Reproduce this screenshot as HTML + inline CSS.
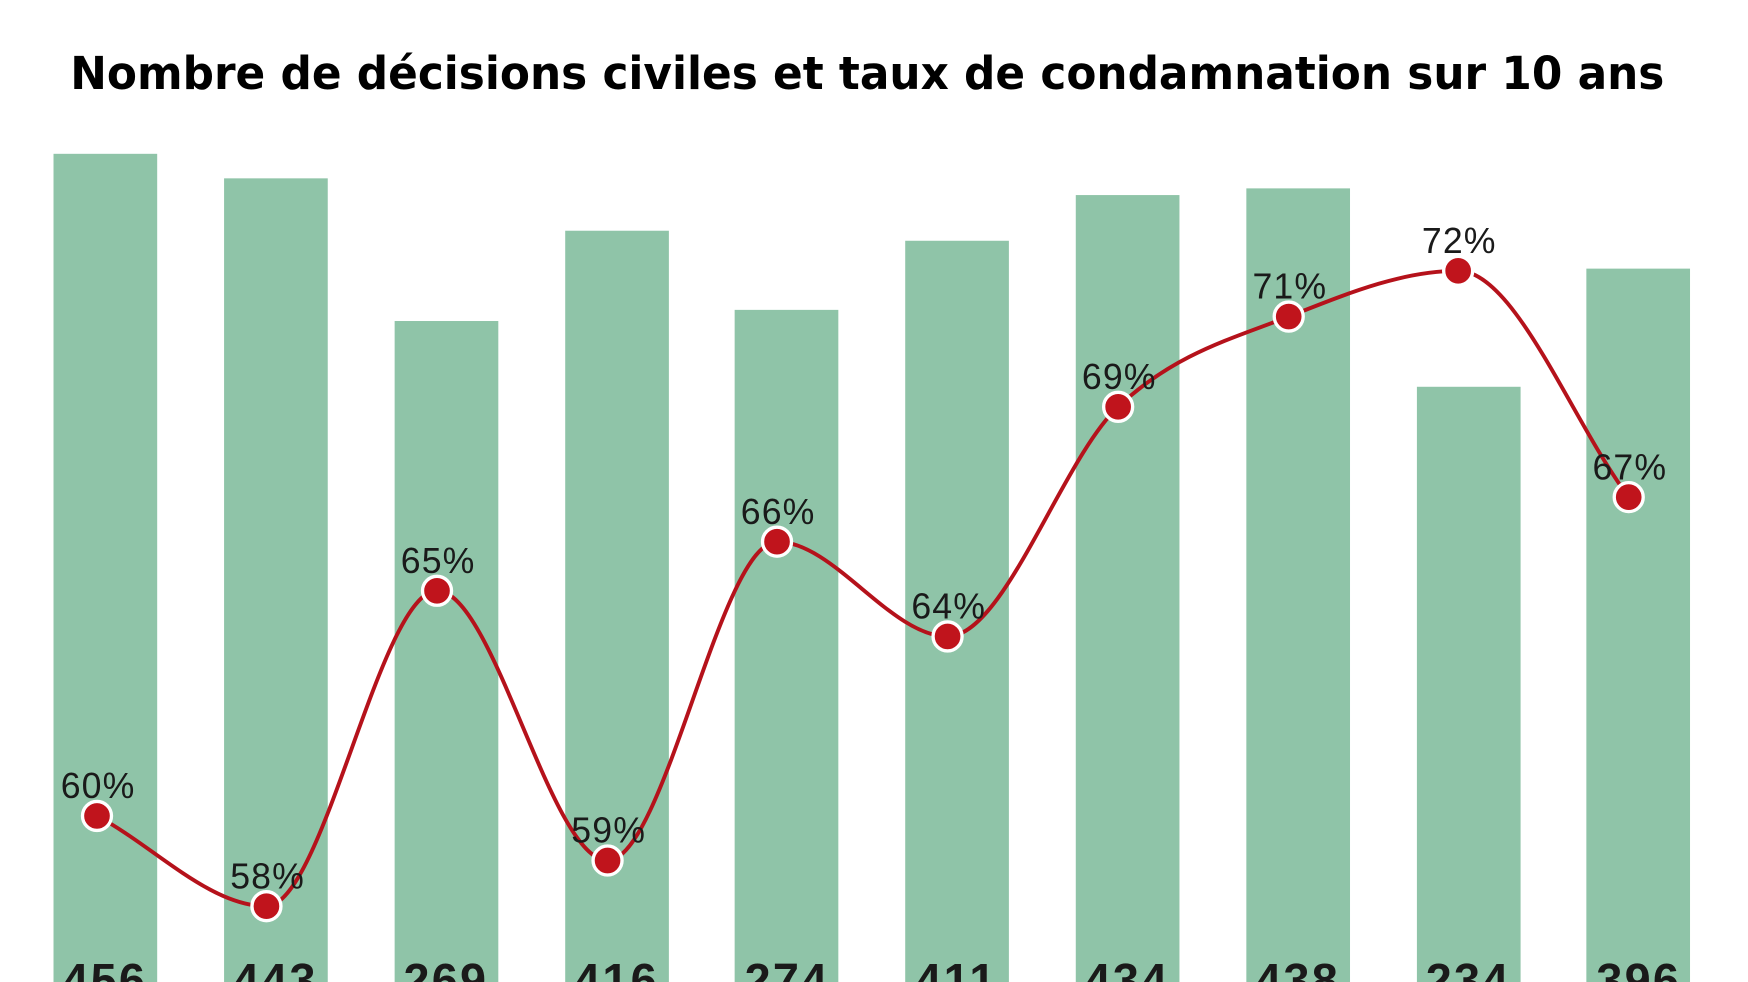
<!DOCTYPE html>
<html><head><meta charset="utf-8"><style>
html,body{margin:0;padding:0;background:#fff;width:1748px;height:982px;overflow:hidden;}
svg{display:block;overflow:hidden;}
</style></head><body>
<svg width="1748" height="982" viewBox="0 0 1568 881" preserveAspectRatio="none" xmlns="http://www.w3.org/2000/svg">
<rect width="1568" height="881" fill="#fff"/>
<text x="778" y="80" text-anchor="middle" font-family="'DejaVu Sans','Liberation Sans',sans-serif" font-weight="bold" font-size="41" fill="#000" textLength="1430" lengthAdjust="spacingAndGlyphs">Nombre de décisions civiles et taux de condamnation sur 10 ans</text>
<g fill="#8fc4a8">
<rect x="48" y="138" width="93" height="743"/>
<rect x="201" y="160" width="93" height="721"/>
<rect x="354" y="288" width="93" height="593"/>
<rect x="507" y="207" width="93" height="674"/>
<rect x="659" y="278" width="93" height="603"/>
<rect x="812" y="216" width="93" height="665"/>
<rect x="965" y="175" width="93" height="706"/>
<rect x="1118" y="169" width="93" height="712"/>
<rect x="1271" y="347" width="93" height="534"/>
<rect x="1423" y="241" width="93" height="640"/>
</g>
<g font-family="'Liberation Sans',sans-serif" font-size="42" font-weight="bold" fill="#1a1a1a" text-anchor="middle" letter-spacing="2">
<text x="94" y="894">456</text><text x="247" y="894">443</text><text x="400" y="894">269</text><text x="553" y="894">416</text><text x="706" y="894">274</text><text x="858" y="894">411</text><text x="1011" y="894">434</text><text x="1164" y="894">438</text><text x="1317" y="894">234</text><text x="1470" y="894">396</text>
</g>
<path d="M87,732 C138,759 188,813 239,813 C290,813 341,530 392,530 C443,530 494,772 545,772 C596,772 646,486 697,486 C748,486 799,571 850,571 C901,571 952,413 1003,365 C1054,317 1105,304 1156,284 C1207,264 1257,243 1308,243 C1359,243 1410,378 1461,446" fill="none" stroke="#b5121b" stroke-width="3.5"/>
<g fill="#c0141c" stroke="#fff" stroke-width="3">
<circle cx="87" cy="732" r="13"/><circle cx="239" cy="813" r="13"/><circle cx="392" cy="530" r="13"/><circle cx="545" cy="772" r="13"/><circle cx="697" cy="486" r="13"/><circle cx="850" cy="571" r="13"/><circle cx="1003" cy="365" r="13"/><circle cx="1156" cy="284" r="13"/><circle cx="1308" cy="243" r="13"/><circle cx="1461" cy="446" r="13"/>
</g>
<g font-family="'Liberation Sans',sans-serif" font-size="32" fill="#1a1a1a" text-anchor="middle" letter-spacing="1">
<text x="88" y="716">60%</text><text x="240" y="797">58%</text><text x="393" y="514">65%</text><text x="546" y="756">59%</text><text x="698" y="470">66%</text><text x="851" y="555">64%</text><text x="1004" y="349">69%</text><text x="1157" y="268">71%</text><text x="1309" y="227">72%</text><text x="1462" y="430">67%</text>
</g>
</svg>
</body></html>
